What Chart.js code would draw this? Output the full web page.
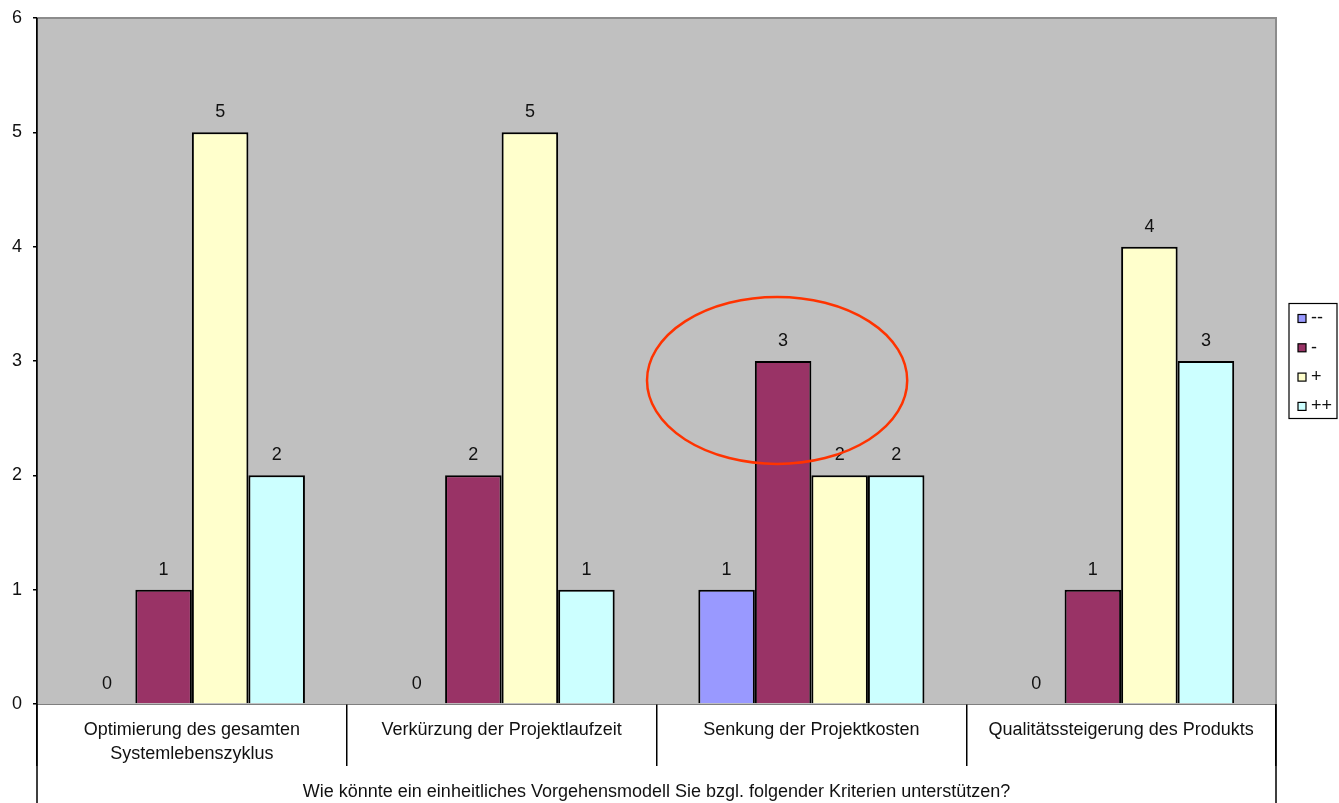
<!DOCTYPE html>
<html lang="de">
<head>
<meta charset="UTF-8">
<title>Vorgehensmodell Kriterien</title>
<script src="https://cdn.jsdelivr.net/npm/chart.js"></script>
<style>
  html, body { margin: 0; padding: 0; background: #fff; }
  #wrap { width: 1339px; height: 803px; position: relative; }
</style>
</head>
<body>
<div id="wrap"><canvas id="chart"></canvas></div>
<script>
const categories = [
    ['Optimierung des gesamten', 'Systemlebenszyklus'],
    'Verkürzung der Projektlaufzeit',
    'Senkung der Projektkosten',
    'Qualitätssteigerung des Produkts'
];
const seriesNames = ['--', '-', '+', '++'];
const valuesMinusMinus = [0, 0, 1, 0];
const valuesMinus = [1, 2, 3, 1];
const valuesPlus = [5, 5, 2, 4];
const valuesPlusPlus = [2, 1, 2, 3];
const yMax = 6;

const FONT = "'Liberation Sans', Arial, sans-serif";
const colors = ['#9999FF', '#993366', '#FFFFCC', '#CCFFFF'];

// grey plot area with top/right border
const plotBackground = {
    id: 'plotBackground',
    beforeDatasetsDraw(chart) {
        const {ctx, chartArea: a} = chart;
        ctx.save();
        ctx.fillStyle = '#C0C0C0';
        ctx.fillRect(a.left, a.top, a.right - a.left, a.bottom - a.top);
        ctx.strokeStyle = '#8C8C8C';
        ctx.lineWidth = 2;
        ctx.beginPath();
        ctx.moveTo(a.left, a.top);
        ctx.lineTo(a.right, a.top);
        ctx.lineTo(a.right, a.bottom);
        ctx.stroke();
        ctx.restore();
    },
    afterDraw(chart) {
        // outer frame lines of the category table
        const {ctx, chartArea: a} = chart;
        ctx.save();
        ctx.strokeStyle = '#000';
        ctx.lineWidth = 1.5;
        ctx.beginPath();
        ctx.moveTo(a.left, a.top);
        ctx.lineTo(a.left, chart.height);
        ctx.moveTo(a.right, a.bottom);
        ctx.lineTo(a.right, chart.height);
        ctx.stroke();
        ctx.restore();
    }
};

// value labels above bars + highlight ellipse
const valueLabels = {
    id: 'valueLabels',
    afterDatasetsDraw(chart) {
        const {ctx} = chart;
        ctx.save();
        ctx.font = '18px ' + FONT;
        ctx.fillStyle = '#111';
        ctx.textAlign = 'center';
        ctx.textBaseline = 'middle';
        chart.data.datasets.forEach((ds, i) => {
            chart.getDatasetMeta(i).data.forEach((bar, j) => {
                ctx.fillText(String(ds.data[j]), bar.x, bar.y - 20);
            });
        });

        // ellipse around "Senkung der Projektkosten" / "-"
        const xs = chart.scales.x, ys = chart.scales.y;
        const bar = chart.getDatasetMeta(1).data[2];
        const catW = xs.getPixelForValue(1) - xs.getPixelForValue(0);
        const unit = ys.getPixelForValue(0) - ys.getPixelForValue(1);
        ctx.strokeStyle = '#FF3300';
        ctx.lineWidth = 2.5;
        ctx.beginPath();
        ctx.ellipse(bar.x - 6, ys.getPixelForValue(2.83), catW * 0.42, unit * 0.73, 0, 0, Math.PI * 2);
        ctx.stroke();
        ctx.restore();
    }
};

// boxed legend on the right
const boxLegend = {
    id: 'boxLegend',
    afterDraw(chart) {
        const {ctx, chartArea: a} = chart;
        const w = 48, h = 115, step = 29.3;
        const left = a.right + 13;
        const top = (a.top + a.bottom) / 2 - h / 2;
        ctx.save();
        ctx.fillStyle = '#fff';
        ctx.fillRect(left, top, w, h);
        ctx.strokeStyle = '#000';
        ctx.lineWidth = 1.2;
        ctx.strokeRect(left, top, w, h);
        ctx.font = '18px ' + FONT;
        ctx.textBaseline = 'middle';
        ctx.textAlign = 'left';
        chart.data.datasets.forEach((ds, i) => {
            const cy = top + 15 + i * step;
            ctx.fillStyle = ds.backgroundColor;
            ctx.fillRect(left + 9, cy - 4, 8, 8);
            ctx.strokeStyle = '#000';
            ctx.lineWidth = 1.2;
            ctx.strokeRect(left + 9, cy - 4, 8, 8);
            ctx.fillStyle = '#111';
            ctx.fillText(ds.label, left + 22, cy);
        });
        ctx.restore();
    }
};

const seriesValues = [valuesMinusMinus, valuesMinus, valuesPlus, valuesPlusPlus];

new Chart(document.getElementById('chart'), {
    type: 'bar',
    data: {
        labels: categories,
        datasets: seriesNames.map((name, i) => ({
            label: name,
            data: seriesValues[i],
            backgroundColor: colors[i],
            borderColor: '#000',
            borderWidth: 2,
            borderSkipped: 'bottom',
            categoryPercentage: 0.73,
            barPercentage: 1.0
        }))
    },
    options: {
        responsive: true,
        maintainAspectRatio: false,
        animation: false,
        layout: { padding: { top: 18, right: 63, left: 0, bottom: 0 } },
        plugins: {
            legend: { display: false },
            tooltip: { enabled: false }
        },
        scales: {
            x: {
                grid: {
                    display: true,
                    drawOnChartArea: false,
                    drawTicks: true,
                    tickLength: 62,
                    color: '#000',
                    lineWidth: 1.5
                },
                border: { display: true, color: '#000', width: 1.5 },
                ticks: {
                    color: '#111',
                    font: { family: FONT, size: 18, lineHeight: 1.28 },
                    padding: -47,
                    maxRotation: 0,
                    autoSkip: false
                },
                title: {
                    display: true,
                    text: 'Wie könnte ein einheitliches Vorgehensmodell Sie bzgl. folgender Kriterien unterstützen?',
                    color: '#111',
                    font: { family: FONT, size: 18, lineHeight: 1.2 },
                    padding: { top: 0, bottom: 0 }
                },
                afterFit(scale) { scale.height = 99; }
            },
            y: {
                min: 0,
                max: yMax,
                ticks: {
                    stepSize: 1,
                    color: '#111',
                    font: { family: FONT, size: 18 },
                    padding: 11
                },
                grid: {
                    display: true,
                    drawOnChartArea: false,
                    drawTicks: true,
                    tickLength: 4,
                    color: '#000',
                    lineWidth: 1.5
                },
                border: { display: true, color: '#000', width: 1.5 },
                afterFit(scale) {
                    scale.width = 37;
                    scale.paddingTop = 0;
                    scale.paddingBottom = 0;
                }
            }
        }
    },
    plugins: [plotBackground, valueLabels, boxLegend]
});
</script>
</body>
</html>
